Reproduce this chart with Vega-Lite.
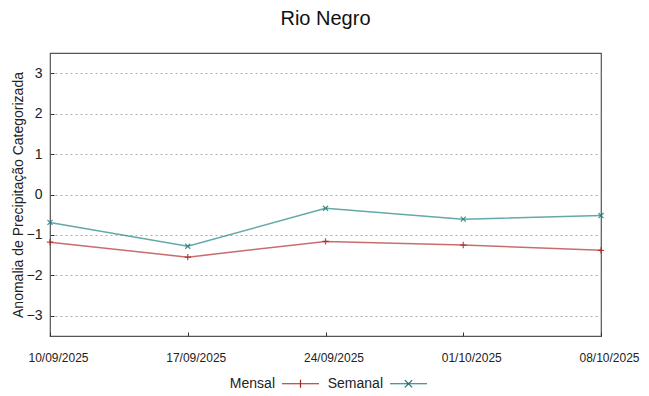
{
  "$schema": "https://vega.github.io/schema/vega-lite/v6.json",
  "width": 551,
  "height": 283,
  "autosize": {"type": "none"},
  "padding": {"left": 50, "top": 53, "right": 48, "bottom": 60},
  "background": "white",
  "config": {
    "font": "Liberation Sans",
    "view": {"stroke": "#555555", "strokeWidth": 1.2},
    "axis": {"labelFont": "Liberation Sans", "titleFont": "Liberation Sans"}
  },
  "title": {"text": "Rio Negro", "fontSize": 20, "fontWeight": "normal", "font": "Liberation Sans", "color": "#111111", "offset": 24, "anchor": "middle"},
  "data": {"values": [
    {"date": "2025-09-10", "serie": "Mensal", "valor": -1.18},
    {"date": "2025-09-17", "serie": "Mensal", "valor": -1.55},
    {"date": "2025-09-24", "serie": "Mensal", "valor": -1.16},
    {"date": "2025-10-01", "serie": "Mensal", "valor": -1.25},
    {"date": "2025-10-08", "serie": "Mensal", "valor": -1.38},
    {"date": "2025-09-10", "serie": "Semanal", "valor": -0.69},
    {"date": "2025-09-17", "serie": "Semanal", "valor": -1.28},
    {"date": "2025-09-24", "serie": "Semanal", "valor": -0.34},
    {"date": "2025-10-01", "serie": "Semanal", "valor": -0.61},
    {"date": "2025-10-08", "serie": "Semanal", "valor": -0.52}
  ]},
  "encoding": {
    "x": {
      "field": "date", "type": "temporal",
      "scale": {"type": "utc", "domain": [{"year": 2025, "month": 9, "date": 10, "utc": true}, {"year": 2025, "month": 10, "date": 8, "utc": true}], "nice": false},
      "axis": {
        "title": null, "format": "%d/%m/%Y",
        "values": [{"year": 2025, "month": 9, "date": 10, "utc": true}, {"year": 2025, "month": 9, "date": 17, "utc": true}, {"year": 2025, "month": 9, "date": 24, "utc": true}, {"year": 2025, "month": 10, "date": 1, "utc": true}, {"year": 2025, "month": 10, "date": 8, "utc": true}],
        "grid": false, "domain": false, "tickSize": -4, "tickColor": "#333333",
        "labelPadding": 20, "labelOffset": 8, "labelFontSize": 12, "labelColor": "#222222", "labelFlush": false
      }
    },
    "y": {
      "field": "valor", "type": "quantitative",
      "scale": {"domain": [-3.5, 3.5], "nice": false, "zero": false},
      "axis": {
        "title": "Anomalia de Precipitação Categorizada", "titleFontSize": 14, "titleFontWeight": "normal", "titleColor": "#222222", "titlePadding": 1,
        "values": [-3, -2, -1, 0, 1, 2, 3], "format": "d",
        "grid": true, "gridDash": [2, 3], "gridColor": "#aaaaaa", "gridWidth": 1,
        "domain": false, "tickSize": -4, "tickColor": "#333333",
        "labelPadding": 12, "labelFontSize": 14, "labelColor": "#222222"
      }
    },
    "color": {
      "field": "serie", "type": "nominal",
      "scale": {"domain": ["Mensal", "Semanal"], "range": ["#a8201f", "#117a7a"]},
      "legend": {
        "title": null, "orient": "none", "legendX": 231, "legendY": 311, "direction": "horizontal",
        "labelFontSize": 14, "labelColor": "#222222", "labelAlign": "right", "labelOffset": -45,
        "symbolType": "stroke", "symbolSize": 1369, "symbolStrokeWidth": 1.2, "symbolOpacity": 1,
        "columnPadding": 5, "padding": 0,
        "encode": {"symbols": {"update": {"shape": {"signal": "datum.value == 'Mensal' ? 'M-1,0L1,0M0,-0.22L0,0.22' : 'M-1,0L1,0M-0.2,-0.2L0.2,0.2M-0.2,0.2L0.2,-0.2'"}}}}
      }
    }
  },
  "layer": [
    {"mark": {"type": "line", "strokeWidth": 1.5, "opacity": 0.65}},
    {"transform": [{"filter": "datum.serie == 'Mensal'"}],
     "mark": {"type": "point", "filled": false, "strokeWidth": 1.2, "size": 40, "opacity": 0.8, "shape": "M-1,0L1,0M0,-1L0,1"}},
    {"transform": [{"filter": "datum.serie == 'Semanal'"}],
     "mark": {"type": "point", "filled": false, "strokeWidth": 1.2, "size": 40, "opacity": 0.8, "shape": "M-0.8,-0.8L0.8,0.8M-0.8,0.8L0.8,-0.8"}}
  ]
}
